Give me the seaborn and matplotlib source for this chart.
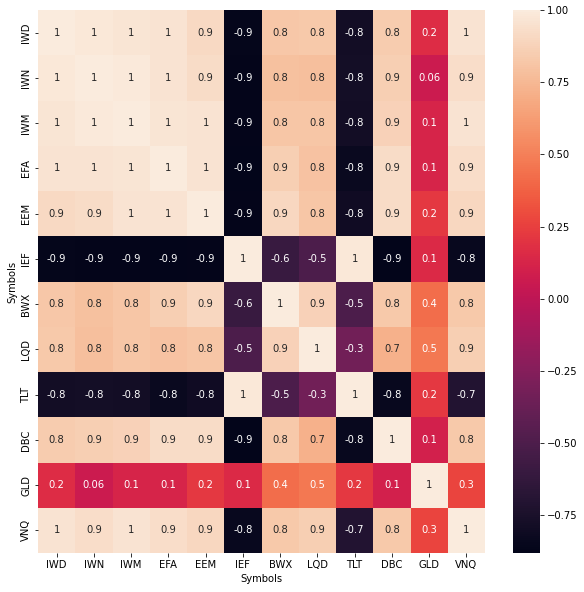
import numpy as np
import pandas as pd
import matplotlib
matplotlib.use('Agg')
import matplotlib.pyplot as plt
import seaborn as sns

symbols = ['IWD', 'IWN', 'IWM', 'EFA', 'EEM', 'IEF', 'BWX', 'LQD', 'TLT', 'DBC', 'GLD', 'VNQ']

# upper triangle of the correlation matrix, row by row
row_iwd = [0.98, 0.97, 0.96, 0.91, -0.86, 0.82, 0.83, -0.79, 0.84, 0.17, 0.96]
row_iwn = [0.99, 0.96, 0.92, -0.87, 0.79, 0.78, -0.78, 0.86, 0.06, 0.93]
row_iwm = [0.97, 0.96, -0.87, 0.81, 0.81, -0.79, 0.87, 0.12, 0.96]
row_efa = [0.96, -0.88, 0.86, 0.80, -0.83, 0.92, 0.12, 0.93]
row_eem = [-0.87, 0.90, 0.81, -0.80, 0.92, 0.22, 0.90]
row_ief = [-0.60, -0.50, 0.98, -0.88, 0.15, -0.84]
row_bwx = [0.87, -0.50, 0.83, 0.42, 0.83]
row_lqd = [-0.33, 0.72, 0.47, 0.86]
row_tlt = [-0.84, 0.22, -0.71]
row_dbc = [0.10, 0.83]
row_gld = [0.27]

upper_rows = [row_iwd, row_iwn, row_iwm, row_efa, row_eem, row_ief,
              row_bwx, row_lqd, row_tlt, row_dbc, row_gld]


def build_corr(rows, names):
    n = len(names)
    mat = np.eye(n)
    for i, vals in enumerate(rows):
        for k, v in enumerate(vals):
            j = i + 1 + k
            mat[i, j] = v
            mat[j, i] = v
    df = pd.DataFrame(mat, index=names, columns=names)
    df.index.name = 'Symbols'
    df.columns.name = 'Symbols'
    return df


corr = build_corr(upper_rows, symbols)

W, H = 584, 592
fig = plt.figure(figsize=(W / 72, H / 72), dpi=72)
ax = fig.add_axes([38 / W, 1 - 553 / H, (485 - 38) / W, (553 - 10) / H])
cax = fig.add_axes([513 / W, 1 - 553 / H, (540 - 513) / W, (553 - 10) / H])

sns.heatmap(corr, annot=True, fmt='.1g', ax=ax, cbar_ax=cax,
            annot_kws={'size': 10})
ax.tick_params(labelsize=10)
cax.tick_params(labelsize=10)
ax.set_xlabel('Symbols', fontsize=10)
ax.set_ylabel('Symbols', fontsize=10)

fig.savefig('out.png', dpi=72, facecolor='white')
